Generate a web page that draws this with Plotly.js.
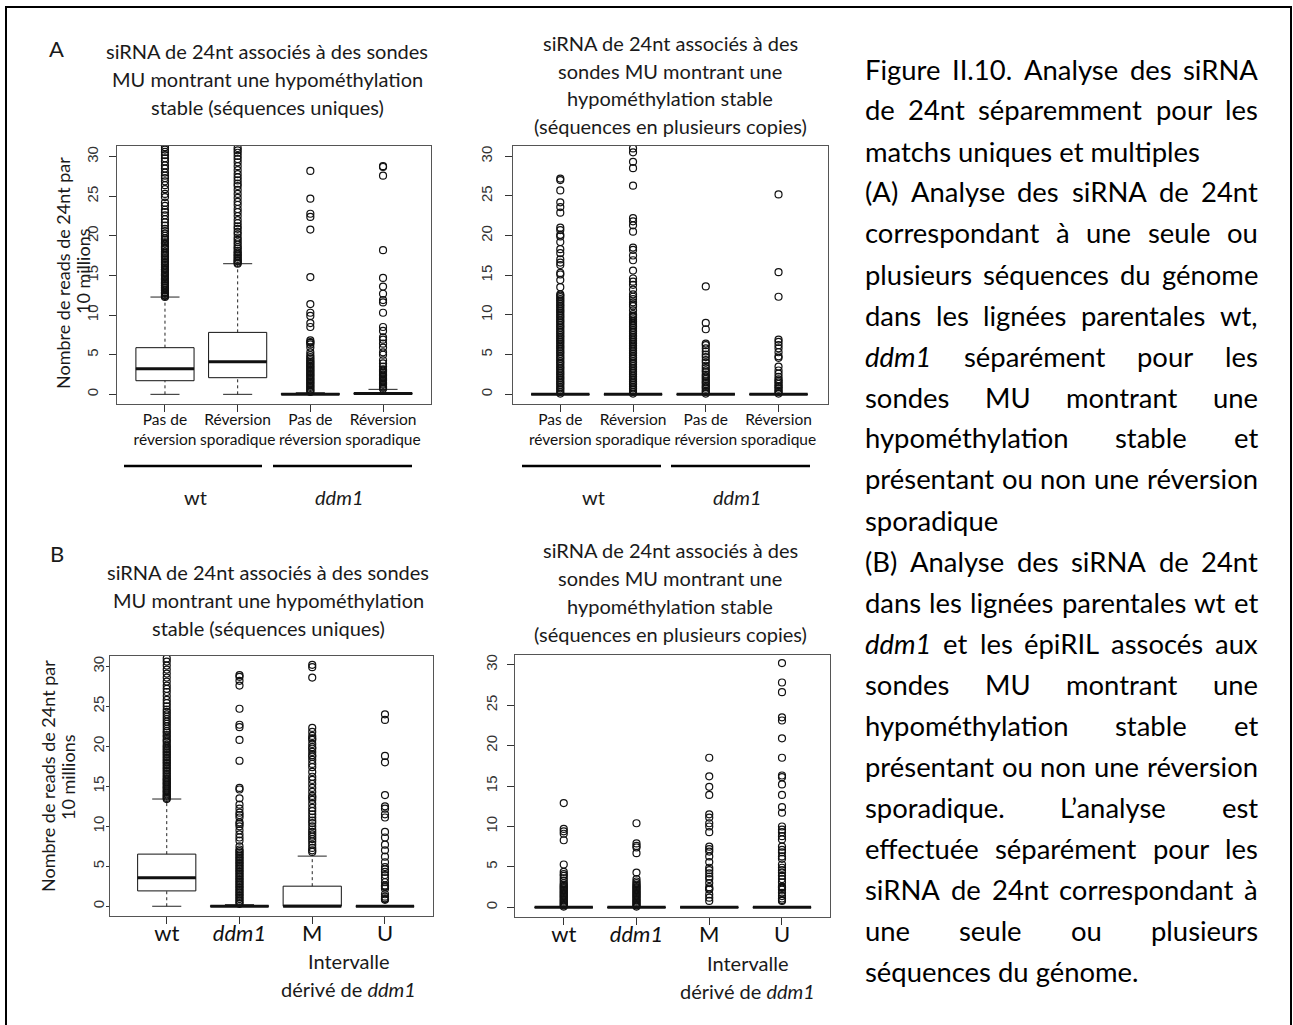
<!DOCTYPE html>
<html><head><meta charset="utf-8">
<script src="https://cdn.plot.ly/plotly-3.0.1.min.js"></script>
<style>body{margin:0;background:#fff}#chart{width:1293px;height:1025px}</style>
</head><body><div id="chart"></div>
<script>
// ---------------- DATA ----------------
const catsA = ["Pas de<br>réversion","Réversion<br>sporadique","Pas de<br>réversion","Réversion<br>sporadique"];
const catsB = ["wt","<i>ddm1</i>","M","U"];
const groupsA = ["wt","<i>ddm1</i>"];
const xPos = [1,2,3,4];
const yTicks = [0,5,10,15,20,25,30];

// Panel A1 : séquences uniques
const a1_q1  = [1.72, 2.10, 0, 0];
const a1_med = [3.24, 4.12, 0, 0.1];
const a1_q3  = [5.89, 7.82, 0.1, 0.2];
const a1_lo  = [0, 0, 0, 0];
const a1_hi  = [12.28, 16.49, 0.2, 0.63];
const a1_out_1 = [12.3,12.4,12.5,12.7,12.8,12.9,13.1,13.2,13.4,13.5,13.7,13.8,14.0,14.1,14.3,14.5,14.6,14.8,15.0,15.1,15.3,15.5,15.7,15.8,16.0,16.2,16.4,16.6,16.8,17.0,17.2,17.4,17.6,17.8,18.0,18.3,18.5,18.7,19.0,19.2,19.5,19.7,20.0,20.3,20.6,20.9,21.3,21.7,22.1,22.6,23.0,23.3,23.8,24.2,24.9,25.3,25.9,26.4,26.9,27.3,27.6,28.0,28.5,28.9,29.4,29.8,30.2,30.6,30.9,31.2];
const a1_out_2 = [16.5,16.6,16.8,16.9,17.1,17.3,17.5,17.7,17.9,18.1,18.4,18.6,18.9,19.2,19.5,19.8,20.2,20.5,20.9,21.2,21.6,22.0,22.5,23.0,23.4,23.9,24.3,24.8,25.3,25.8,26.3,26.6,27.0,27.4,27.8,28.3,28.8,29.3,29.7,30.1,30.5,30.8,31.1];
const a1_out_3 = [0.3,0.45,0.6,0.8,0.95,1.1,1.3,1.45,1.6,1.8,1.95,2.1,2.3,2.45,2.6,2.8,2.95,3.1,3.3,3.45,3.6,3.8,3.95,4.1,4.3,4.5,4.7,4.95,5.3,5.9,6.3,6.5,6.6,6.8,8.5,9.0,9.9,10.3,11.4,14.8,20.8,22.4,22.8,24.7,28.2];
const a1_out_4 = [0.7,0.85,1.0,1.2,1.35,1.5,1.7,1.85,2.0,2.2,2.35,2.5,2.7,2.85,3.0,3.15,3.5,3.9,4.3,5.0,5.3,5.9,6.4,6.9,7.2,8.0,8.5,10.3,11.6,11.9,12.7,13.6,14.7,18.2,27.6,28.7,28.8];

// Panel A2 : séquences en plusieurs copies
const a2_q1  = [0, 0, 0, 0];
const a2_med = [0, 0, 0, 0];
const a2_q3  = [0, 0, 0, 0];
const a2_lo  = [0, 0, 0, 0];
const a2_hi  = [0, 0, 0, 0];
const a2_out_1 = [0.1,0.3,0.55,0.75,0.95,1.2,1.4,1.6,1.85,2.05,2.25,2.5,2.7,2.9,3.15,3.35,3.55,3.8,4.0,4.2,4.45,4.65,4.85,5.1,5.3,5.5,5.75,5.95,6.15,6.4,6.6,6.8,7.05,7.25,7.45,7.7,7.9,8.1,8.35,8.55,8.75,9.0,9.2,9.4,9.65,9.85,10.05,10.3,10.5,10.7,10.95,11.15,11.35,11.6,11.8,12.0,12.25,12.45,12.6,13.5,14.4,15.1,15.3,16.3,16.6,17.0,17.8,18.3,19.2,19.9,20.1,20.7,21.0,22.9,23.6,24.2,25.7,27.0,27.2];
const a2_out_2 = [0.1,0.3,0.55,0.75,0.95,1.2,1.4,1.6,1.85,2.05,2.25,2.5,2.7,2.9,3.15,3.35,3.55,3.8,4.0,4.2,4.45,4.65,4.85,5.1,5.3,5.5,5.75,5.95,6.15,6.4,6.6,6.8,7.05,7.25,7.45,7.7,7.9,8.1,8.35,8.55,8.75,9.0,9.2,9.45,9.7,9.9,10.1,10.6,11.1,11.3,11.6,12.0,12.3,12.6,13.2,13.8,14.2,14.6,15.6,16.9,17.5,18.2,18.5,20.5,21.3,21.8,22.2,26.3,28.5,29.3,30.5,31.0];
const a2_out_3 = [0.1,0.3,0.45,0.7,0.9,1.05,1.3,1.5,1.65,1.9,2.1,2.3,2.5,2.8,3.0,3.3,3.6,4.0,4.3,4.7,5.0,5.4,5.8,6.2,6.4,8.2,9.0,13.6];
const a2_out_4 = [0.1,0.3,0.45,0.7,0.9,1.05,1.3,1.5,1.7,1.9,2.2,2.6,3.0,3.5,4.6,4.8,5.3,5.8,6.2,6.6,6.9,12.3,15.4,25.2];

// Panel B1 : séquences uniques
const b1_q1  = [1.92, 0, 0, 0];
const b1_med = [3.55, 0, 0, 0];
const b1_q3  = [6.52, 0.05, 2.51, 0];
const b1_lo  = [0, 0, 0, 0];
const b1_hi  = [13.41, 0.2, 6.27, 0];
const b1_out_1 = [13.4,13.55,13.7,13.85,14.0,14.2,14.35,14.5,14.7,14.85,15.0,15.2,15.35,15.5,15.7,15.85,16.0,16.2,16.4,16.6,16.8,17.0,17.2,17.4,17.6,17.8,18.0,18.2,18.4,18.6,18.8,19.0,19.2,19.4,19.6,19.8,20.0,20.2,20.5,20.7,20.9,21.2,21.4,21.7,21.9,22.2,22.5,22.8,23.1,23.4,23.7,24.0,24.3,24.6,25.0,25.4,25.8,26.3,26.8,27.2,27.6,28.1,28.6,29.1,29.6,30.1,30.6,31.0];
const b1_out_2 = [0.3,0.5,0.7,0.9,1.1,1.3,1.5,1.7,1.9,2.1,2.3,2.5,2.7,2.9,3.1,3.3,3.5,3.7,3.9,4.1,4.3,4.5,4.7,4.9,5.1,5.3,5.5,5.7,5.9,6.1,6.3,6.5,6.7,6.9,7.1,7.5,8.2,8.6,9.0,9.5,10.0,10.3,10.5,11.1,11.4,11.7,12.2,12.7,13.5,14.6,14.8,18.2,20.8,22.4,22.7,24.7,27.6,28.2,28.7,28.9];
const b1_out_3 = [6.8,7.0,7.3,7.7,8.1,8.4,8.7,9.0,9.3,9.6,10.0,10.4,10.7,11.1,11.5,11.9,12.3,12.8,13.3,13.6,13.8,14.3,14.8,15.3,15.8,16.2,16.8,17.4,17.8,18.3,18.7,18.9,19.3,19.7,19.9,20.3,20.8,21.0,21.3,21.8,22.3,28.6,29.9,30.2];
const b1_out_4 = [0.8,0.9,1.0,1.2,1.5,2.2,2.4,2.5,2.6,3.0,3.5,3.9,4.3,4.6,4.9,5.5,6.2,7.0,7.7,8.6,9.3,11.1,11.5,12.2,12.5,13.9,18.0,18.8,23.3,24.0];

// Panel B2 : séquences en plusieurs copies
const b2_q1  = [0, 0, 0, 0];
const b2_med = [0, 0, 0, 0];
const b2_q3  = [0, 0, 0, 0];
const b2_lo  = [0, 0, 0, 0];
const b2_hi  = [0, 0, 0, 0];
const b2_out_1 = [0.1,0.25,0.4,0.55,0.7,0.85,1.0,1.15,1.3,1.45,1.6,1.75,1.9,2.05,2.2,2.35,2.5,2.65,2.8,3.0,3.3,3.6,3.9,4.1,4.4,5.3,8.3,9.1,9.4,9.7,12.9];
const b2_out_2 = [0.1,0.25,0.4,0.55,0.7,0.85,1.0,1.15,1.3,1.45,1.6,1.75,1.9,2.05,2.2,2.35,2.5,2.65,2.8,3.0,3.2,3.5,4.3,6.7,7.4,7.6,7.9,10.4];
const b2_out_3 = [0.8,1.2,1.6,2.2,2.3,2.5,3.0,3.5,3.8,4.2,4.6,4.9,5.6,6.3,6.9,7.2,7.5,9.3,10.0,10.4,11.1,11.5,13.9,14.9,16.2,18.5];
const b2_out_4 = [0.8,0.9,1.1,1.4,1.8,2.2,2.4,2.5,2.6,3.1,3.5,3.9,4.3,4.6,4.9,5.3,6.0,6.3,6.8,7.1,7.5,8.4,8.8,9.3,9.6,10.0,11.7,12.4,13.9,15.2,16.1,16.3,18.5,20.9,23.1,23.5,26.6,27.8,30.2];

// Texts
const panelLetters = ["A","B"];
const titleUniques = ["siRNA de 24nt associés à des sondes","MU montrant une hypométhylation","stable (séquences uniques)"];
const titleCopies = ["siRNA de 24nt associés à des","sondes MU montrant une","hypométhylation stable","(séquences en plusieurs copies)"];
const yTitle = ["Nombre de reads de 24nt par","10 millions"];
const xSubTitle = ["Intervalle","dérivé de <i>ddm1</i>"];
const captionLines = [
  ["Figure II.10. Analyse des siRNA", true],
  ["de 24nt séparemment pour les", true],
  ["matchs uniques et multiples", false],
  ["(A) Analyse des siRNA de 24nt", true],
  ["correspondant à une seule ou", true],
  ["plusieurs séquences du génome", true],
  ["dans les lignées parentales wt,", true],
  ["<i>ddm1</i> séparément pour les", true],
  ["sondes MU montrant une", true],
  ["hypométhylation stable et", true],
  ["présentant ou non une réversion", true],
  ["sporadique", false],
  ["(B) Analyse des siRNA de 24nt", true],
  ["dans les lignées parentales wt et", true],
  ["<i>ddm1</i> et les épiRIL assocés aux", true],
  ["sondes MU montrant une", true],
  ["hypométhylation stable et", true],
  ["présentant ou non une réversion", true],
  ["sporadique. L’analyse est", true],
  ["effectuée séparément pour les", true],
  ["siRNA de 24nt correspondant à", true],
  ["une seule ou plusieurs", true],
  ["séquences du génome.", false]
];

// ---------------- LAYOUT HELPERS ----------------
const W = 1293, H = 1025;
const PX = x => x / W;
const PY = y => 1 - y / H;
const SANS = "Lato, 'Open Sans', sans-serif";
const RFONT = "'Liberation Sans', Arial, sans-serif";

const panels = [
  {frame:[117,146,431,404], xr:[0.34,4.66], yr:[-1.22,31.35], cats:catsA, tsize:15.5, xoff:-6, ylen:7, yoff:5,
   q1:a1_q1, med:a1_med, q3:a1_q3, lo:a1_lo, hi:a1_hi, outs:[a1_out_1,a1_out_2,a1_out_3,a1_out_4]},
  {frame:[513,146,828,404], xr:[0.35,4.68], yr:[-1.22,31.3], cats:catsA, tsize:15.5, xoff:-6, ylen:7, yoff:7,
   q1:a2_q1, med:a2_med, q3:a2_q3, lo:a2_lo, hi:a2_hi, outs:[a2_out_1,a2_out_2,a2_out_3,a2_out_4]},
  {frame:[110,656,433,916], xr:[0.22,4.66], yr:[-1.22,31.3], cats:catsB, tsize:22, xoff:-9, ylen:3, yoff:-4,
   q1:b1_q1, med:b1_med, q3:b1_q3, lo:b1_lo, hi:b1_hi, outs:[b1_out_1,b1_out_2,b1_out_3,b1_out_4]},
  {frame:[515,655,830,917], xr:[0.33,4.66], yr:[-1.19,31.2], cats:catsB, tsize:22, xoff:-9, ylen:7, yoff:4,
   q1:b2_q1, med:b2_med, q3:b2_q3, lo:b2_lo, hi:b2_hi, outs:[b2_out_1,b2_out_2,b2_out_3,b2_out_4]}
];

const traces = [];
const layout = {
  width: W, height: H, margin:{l:0,r:0,t:0,b:0},
  paper_bgcolor:'#fff', plot_bgcolor:'#fff', showlegend:false,
  annotations: [], shapes: []
};

panels.forEach((p, i) => {
  const sfx = i === 0 ? '' : String(i+1);
  const xa = 'x' + sfx, ya = 'y' + sfx;
  const [l,t,r,b] = p.frame;
  layout['xaxis' + sfx] = {
    domain:[PX(l), PX(r)], range:p.xr, anchor:ya, tickmode:'array', tickvals:xPos, ticktext:p.cats,
    ticks:'outside', ticklen:7, tickcolor:'#333', showline:true, mirror:true, linecolor:'#555', linewidth:1,
    showgrid:false, zeroline:false, fixedrange:true, ticklabelstandoff:p.xoff, tickangle:0,
    tickfont:{family:SANS, size:p.tsize, color:'#111'}
  };
  layout['yaxis' + sfx] = {
    domain:[PY(b), PY(t)], range:p.yr, anchor:xa, tickmode:'array', tickvals:yTicks,
    ticks:'outside', ticklen:p.ylen, tickcolor:'#333', showline:true, mirror:true, linecolor:'#555', linewidth:1,
    showgrid:false, zeroline:false, tickangle:-90, ticklabelstandoff:p.yoff, fixedrange:true,
    tickfont:{family:RFONT, size:15, color:'#333'}
  };
  // box body
  traces.push({type:'box', xaxis:xa, yaxis:ya, x:xPos, q1:p.q1, median:p.med, q3:p.q3,
    lowerfence:p.q1, upperfence:p.q3, width:0.8, whiskerwidth:0, boxpoints:false,
    line:{color:'#111', width:1}, fillcolor:'rgba(255,255,255,0)', hoverinfo:'skip'});
  // whiskers (dashed), staples, medians
  const wx=[], wy=[], sx=[], sy=[], mx=[], my=[];
  xPos.forEach((x, k) => {
    wx.push(x, x, null, x, x, null); wy.push(p.q3[k], p.hi[k], null, p.lo[k], p.q1[k], null);
    sx.push(x-0.2, x+0.2, null, x-0.2, x+0.2, null); sy.push(p.hi[k], p.hi[k], null, p.lo[k], p.lo[k], null);
    mx.push(x-0.4, x+0.4, null); my.push(p.med[k], p.med[k], null);
  });
  traces.push({type:'scatter', mode:'lines', xaxis:xa, yaxis:ya, x:wx, y:wy, line:{color:'#222', width:1, dash:'3px,3px'}, hoverinfo:'skip'});
  traces.push({type:'scatter', mode:'lines', xaxis:xa, yaxis:ya, x:sx, y:sy, line:{color:'#222', width:1}, hoverinfo:'skip'});
  // outliers
  p.outs.forEach((vals, k) => {
    traces.push({type:'scatter', mode:'markers', xaxis:xa, yaxis:ya, x:vals.map(() => xPos[k]), y:vals,
      marker:{symbol:'circle-open', size:7, color:'#111', line:{width:1.2, color:'#111'}}, hoverinfo:'skip'});
  });
  traces.push({type:'scatter', mode:'lines', xaxis:xa, yaxis:ya, x:mx, y:my, line:{color:'#111', width:3}, hoverinfo:'skip'});
});

function ann(text, x, y, size, extra) {
  layout.annotations.push(Object.assign({
    xref:'paper', yref:'paper', x:PX(x), y:PY(y), text:text, showarrow:false,
    xanchor:'center', yanchor:'middle', borderpad:0,
    font:{family:SANS, size:size, color:'#1a1a1a'}
  }, extra || {}));
}

// panel letters
ann(panelLetters[0], 56, 48, 22);
ann(panelLetters[1], 57, 553, 22);
// titles
titleUniques.forEach((s, k) => ann(s, 267, 51 + k*28, 20));
titleCopies.forEach((s, k) => ann(s, 670, 43 + k*27.5, 20));
titleUniques.forEach((s, k) => ann(s, 268, 572 + k*28, 20));
titleCopies.forEach((s, k) => ann(s, 670, 550 + k*28, 20));
// y titles
ann(yTitle[0], 63, 273, 18, {textangle:-90});
ann(yTitle[1], 83, 271, 18, {textangle:-90});
ann(yTitle[0], 48, 776, 18, {textangle:-90});
ann(yTitle[1], 68, 777, 18, {textangle:-90});
// group bars + labels under A panels
[[124,262,273,412],[522,661,671,810]].forEach(g => {
  layout.shapes.push({type:'line', xref:'paper', yref:'paper', x0:PX(g[0]), x1:PX(g[1]), y0:PY(466), y1:PY(466), line:{color:'#000', width:2.5}});
  layout.shapes.push({type:'line', xref:'paper', yref:'paper', x0:PX(g[2]), x1:PX(g[3]), y0:PY(466), y1:PY(466), line:{color:'#000', width:2.5}});
  ann(groupsA[0], (g[0]+g[1])/2 + 2, 497, 20);
  ann(groupsA[1], (g[2]+g[3])/2 - 3, 497, 20);
});
// "Intervalle dérivé de ddm1"
ann(xSubTitle[0], 348, 961, 20); ann(xSubTitle[1], 348, 989, 20);
ann(xSubTitle[0], 747, 963, 20); ann(xSubTitle[1], 747, 991, 20);

// outer frame
layout.shapes.push({type:'rect', xref:'paper', yref:'paper', x0:PX(6), x1:PX(1291), y0:PY(1040), y1:PY(7), line:{color:'#000', width:2}});

// justified caption
const ctx = document.createElement('canvas').getContext('2d');
function strip(s){ return s.replace(/<\/?i>/g, ''); }
function measure(word, size) {
  ctx.font = (word.indexOf('<i>') >= 0 ? 'italic ' : '') + size + 'px Lato';
  return ctx.measureText(strip(word)).width;
}
const capL = 864, capR = 1257, capTop = 69, capStep = 41.0;
const boxW = capR - capL;
let capSize = 100 * 335 / measure("matchs uniques et multiples", 100);
captionLines.forEach(([line, just]) => {
  if (!just) return;
  const words = line.split(' ');
  const nat = words.reduce((a, w) => a + measure(w, 100), 0) + (words.length-1) * measure(' ', 100);
  capSize = Math.min(capSize, 100 * boxW / nat);
});
captionLines.forEach(([line, just], k) => {
  const y = capTop + k * capStep;
  const f = {family:SANS, size:capSize, color:'#000'};
  if (!just) { ann(line, capL, y, capSize, {xanchor:'left', font:f}); return; }
  const words = line.split(' ');
  const widths = words.map(w => measure(w, capSize));
  const gap = (boxW - widths.reduce((a, b) => a + b, 0)) / (words.length - 1);
  let x = capL;
  words.forEach((w, j) => { ann(w, x, y, capSize, {xanchor:'left', font:f}); x += widths[j] + gap; });
});

Plotly.newPlot('chart', traces, layout, {staticPlot:true, displayModeBar:false});
</script>
</body></html>
